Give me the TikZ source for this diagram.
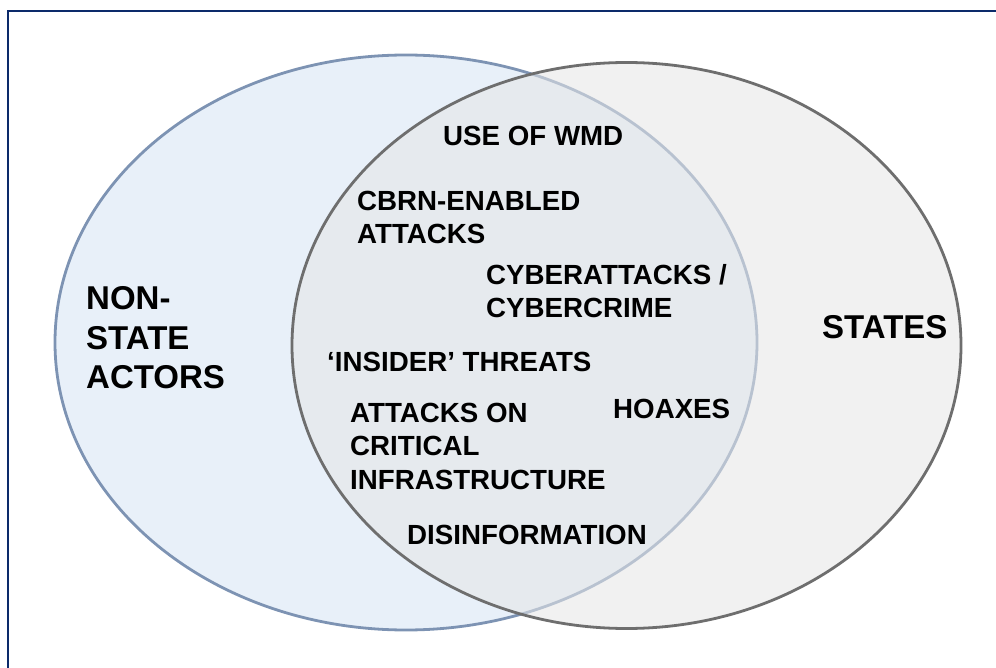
\documentclass[tikz,border=0pt]{standalone}
\usepackage{fontspec}
\setmainfont{Liberation Sans}
\usetikzlibrary{shapes.geometric}
\definecolor{framenavy}{HTML}{0C2A6A}
\definecolor{nsfill}{HTML}{E8F0F9}
\definecolor{nsline}{HTML}{7D93B3}
\definecolor{stfill}{HTML}{E6E6E6}
\definecolor{stline}{HTML}{6E6E6E}
\tikzset{
  setshape/.style={ellipse, inner sep=0pt, line width=2.8pt},
  % multi-line nodes: base anchor sits on the baseline of the last line
  biglabel/.style={anchor=base west, inner sep=0pt, align=left,
    font=\fontsize{33}{39}\selectfont\bfseries},
  threat/.style={anchor=base west, inner sep=0pt, align=left,
    font=\fontsize{27.7}{33.3}\selectfont\bfseries}
}
\begin{document}
\begin{tikzpicture}[x=1pt,y=-1pt]
  \useasboundingbox (0,0) rectangle (996,668);
  \clip (0,0) rectangle (996,668);
  % frame
  \coordinate (fbl) at (8,668);
  \coordinate (ftl) at (8,11);
  \coordinate (ftr) at (996,11);
  \draw[framenavy, line width=2pt] (fbl) -- (ftl) -- (ftr);
  % the two sets
  \node[setshape, draw=nsline, fill=nsfill, minimum width=702pt, minimum height=575pt] (nonstate) at (406,342.5) {};
  \node[setshape, draw=stline, fill=stfill, fill opacity=0.57, draw opacity=1, minimum width=669pt, minimum height=566pt] (states) at (626.5,345.5) {};
  % set labels
  \node[biglabel] (lblnon) at (86,388) {NON-\\STATE\\ACTORS};
  \node[biglabel] (lblst) at (822,338) {STATES};
  % threats in the overlap
  \node[threat] (wmd) at (443,146) {USE OF WMD};
  \node[threat] (cbrn) at (357,244) {CBRN-ENABLED\\ATTACKS};
  \node[threat] (cyber) at (486,318) {CYBERATTACKS /\\CYBERCRIME};
  \node[threat] (insider) at (327,371) {‘INSIDER’ THREATS};
  \node[threat] (infra) at (350,489) {ATTACKS ON\\CRITICAL\\INFRASTRUCTURE};
  \node[threat] (hoax) at (613,418) {HOAXES};
  \node[threat] (disinfo) at (407,544) {DISINFORMATION};
\end{tikzpicture}
\end{document}
